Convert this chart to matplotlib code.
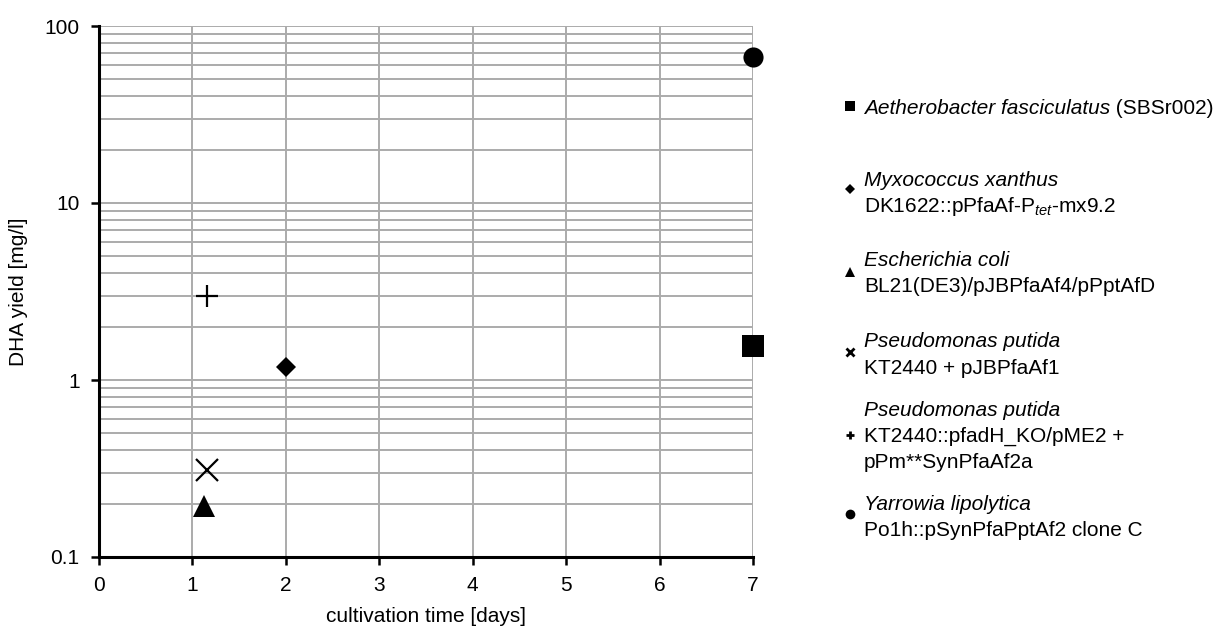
import matplotlib
matplotlib.use("Agg")
import matplotlib.pyplot as plt
from matplotlib.lines import Line2D
from matplotlib.ticker import LogLocator, FixedLocator, NullFormatter

plt.rcParams['font.family'] = ['Liberation Sans', 'DejaVu Sans']
plt.rcParams['mathtext.fontset'] = 'custom'
plt.rcParams['mathtext.rm'] = 'Liberation Sans'
plt.rcParams['mathtext.it'] = 'Liberation Sans:italic'

# ---- data ----
species = ["Aetherobacter fasciculatus", "Myxococcus xanthus", "Escherichia coli",
           "Pseudomonas putida", "Pseudomonas putida", "Yarrowia lipolytica"]
strain_lines = [["(SBSr002)"],
                [r"DK1622::pPfaAf-P$_{\mathit{tet}}$-mx9.2"],
                ["BL21(DE3)/pJBPfaAf4/pPptAfD"],
                ["KT2440 + pJBPfaAf1"],
                ["KT2440::pfadH_KO/pME2 +", "pPm**SynPfaAf2a"],
                ["Po1h::pSynPfaPptAf2 clone C"]]
days = [7.0, 2.0, 1.12, 1.16, 1.16, 7.0]
dha_yield = [1.55, 1.18, 0.195, 0.31, 3.0, 67.0]

x_ticks = [0, 1, 2, 3, 4, 5, 6, 7]
y_ticks = [0.1, 1, 10, 100]
y_ticklabels = ["0.1", "1", "10", "100"]

# ---- styles ----
markers = ['s', 'D', '^', 'x', '+', 'o']
msizes = [16, 10.5, 15.5, 16, 16, 14.5]
leg_msizes = [7.2, 5.5, 6.5, 5.5, 6, 7]

FS = 15
fig = plt.figure(figsize=(12.22, 6.26), dpi=100)
ax = fig.add_axes([99/1222, 1-557/626, (753-99)/1222, (557-26)/626])

ax.set_yscale('log')
ax.set_xlim(0, 7)
ax.set_ylim(0.1, 100)

grid_col = '#ababab'
ax.set_xticks(x_ticks)
ax.set_xticklabels([str(t) for t in x_ticks], fontsize=FS)
ax.yaxis.set_major_locator(FixedLocator(y_ticks))
ax.set_yticklabels(y_ticklabels, fontsize=FS)
ax.yaxis.set_minor_locator(LogLocator(base=10, subs=range(2, 10)))
ax.yaxis.set_minor_formatter(NullFormatter())
ax.grid(True, which='major', color=grid_col, lw=1.4)
ax.grid(True, which='minor', axis='y', color=grid_col, lw=1.4)
ax.tick_params(axis='both', which='major', direction='out', length=6, width=1.8,
               pad=8, color='black')
ax.tick_params(axis='y', which='minor', length=0)
for s in ['top', 'right']:
    ax.spines[s].set_visible(False)
for s in ['left', 'bottom']:
    ax.spines[s].set_linewidth(2.2)
    ax.spines[s].set_zorder(5)
ax.set_axisbelow(True)

for i in range(len(days)):
    mk = markers[i]
    if mk in ('x', '+'):
        ax.plot(days[i], dha_yield[i], marker=mk, ms=msizes[i], mew=1.6,
                color='black', ls='none', clip_on=False, zorder=6)
    else:
        ax.plot(days[i], dha_yield[i], marker=mk, ms=msizes[i], mew=0,
                color='black', ls='none', clip_on=False, zorder=6)

ax.set_xlabel("cultivation time [days]", fontsize=FS, labelpad=8)
ax.set_ylabel("DHA yield [mg/l]", fontsize=FS, labelpad=12)

# ---- legend (manual, multi-line entries) ----
mk_x = 850 / 1222
tx_x = 864 / 1222
entry_marker_y = [106, 189, 272, 352, 435, 514]
entry_first_y = [106, 178, 259, 340, 408, 502]
line_step = 26

def fy(px):
    return 1 - px / 626

for i in range(len(species)):
    mk = markers[i]
    kw = dict(marker=mk, ms=leg_msizes[i], color='black', ls='none',
              transform=fig.transFigure)
    if mk in ('x', '+'):
        kw['mew'] = 2.0
    else:
        kw['mew'] = 0
    fig.add_artist(Line2D([mk_x], [fy(entry_marker_y[i])], **kw))
    t = fig.text(tx_x, fy(entry_first_y[i]), species[i], style='italic',
                 fontsize=FS, va='center_baseline', ha='left')
    if i == 0:
        ax.annotate(" " + strain_lines[i][0], xy=(1, 0), xycoords=t,
                    va='bottom', ha='left', fontsize=FS,
                    annotation_clip=False)
    else:
        for j, line in enumerate(strain_lines[i]):
            fig.text(tx_x, fy(entry_first_y[i] + line_step * (j + 1)), line,
                     fontsize=FS, va='center_baseline', ha='left')

fig.savefig("out.png", dpi=100)
